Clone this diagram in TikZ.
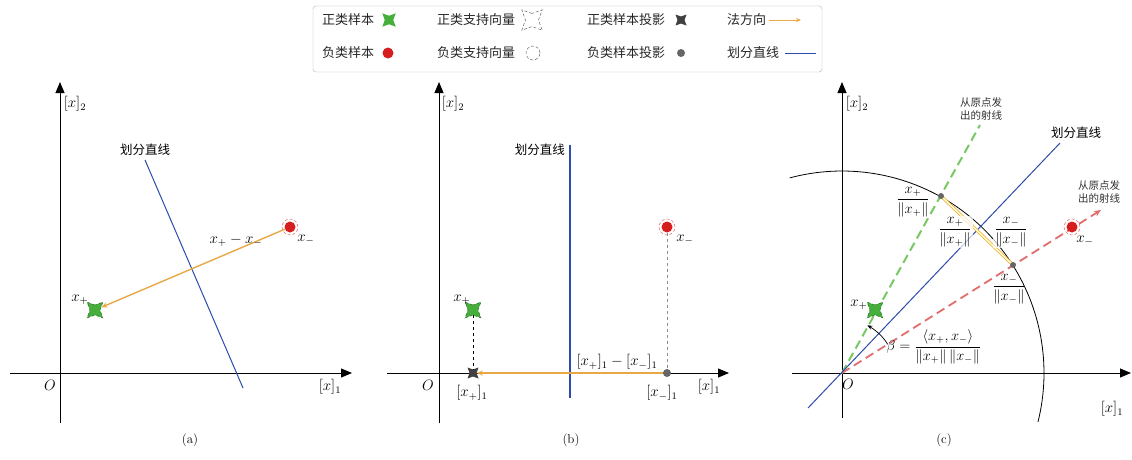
\documentclass[tikz,border=0pt]{standalone}
\usepackage{amsmath}
\usepackage{fontspec}
\newfontfamily\cjk{Noto Sans CJK SC}
\usetikzlibrary{shapes.geometric,arrows.meta}
\definecolor{posgreen}{RGB}{70,175,60}
\definecolor{raygreen}{RGB}{120,200,100}
\definecolor{negred}{RGB}{215,30,30}
\definecolor{rayred}{RGB}{225,110,110}
\definecolor{divblue}{RGB}{45,75,170}
\definecolor{normorange}{RGB}{232,168,70}
\tikzset{
  axis/.style={line width=0.9pt,-{Triangle[length=11pt,width=9pt]}},
  divline/.style={divblue,line width=1pt},
  normarrow/.style={normorange,line width=1.4pt,-{Stealth[length=6pt,width=5pt]}},
  posmark/.style={star,star points=4,star point ratio=0.45,minimum size=10pt,inner sep=0pt,fill=posgreen,draw=posgreen!60!black,densely dashed,line width=0.5pt},
  posplain/.style={star,star points=4,star point ratio=0.45,minimum size=8.5pt,inner sep=0pt,fill=posgreen},
  possv/.style={star,star points=4,star point ratio=0.45,minimum size=13pt,inner sep=0pt,draw=black!60,densely dashed,line width=0.5pt},
  negmark/.style={circle,minimum size=11pt,inner sep=0pt,fill=negred},
  negsv/.style={circle,minimum size=16pt,inner sep=0pt,draw=negred!70,densely dashed,line width=0.5pt},
  negsvleg/.style={circle,minimum size=14pt,inner sep=0pt,draw=black!60,densely dashed,line width=0.5pt},
  posproj/.style={star,star points=4,star point ratio=0.45,minimum size=7pt,inner sep=0pt,fill=black!75},
  negproj/.style={circle,minimum size=8pt,inner sep=0pt,fill=black!60},
  cjklab/.style={font=\cjk\fontsize{12.5}{14}\selectfont,inner sep=1pt},
  raylab/.style={font=\cjk\fontsize{10.5}{13}\selectfont,align=center,inner sep=1pt,text=black!80},
  legtext/.style={font=\cjk\fontsize{13}{15}\selectfont,anchor=west,inner sep=0pt,text=black!85},
  mlab/.style={font=\fontsize{12}{14}\selectfont,inner sep=1pt,transform shape,scale=1.25},
  flab/.style={font=\fontsize{12}{14}\selectfont,inner sep=1pt,transform shape,scale=1.2},
  captext/.style={font=\fontsize{12}{14}\selectfont,transform shape,scale=1.08},
}
\begin{document}
\begin{tikzpicture}[x=1pt,y=-1pt]
\useasboundingbox (0,0) rectangle (1132,459);

% ---------------- legend ----------------
\node[draw=black!30,rounded corners=3pt,minimum width=509pt,minimum height=66pt,inner sep=0pt] (legend) at (567.5,39) {};
\node[legtext] (l1) at (322,20) {正类样本};
\node[posplain] (l1m) at (389,20) {};
\node[legtext] (l2) at (437,20) {正类支持向量};
\node[possv] (l2m) at (532,20) {};
\node[legtext] (l3) at (587,20) {正类样本投影};
\node[posproj] (l3m) at (681,20) {};
\node[legtext] (l4) at (727,20) {法方向};
\coordinate (l4a) at (769,20);
\coordinate (l4b) at (801,20);
\draw[normorange,line width=0.9pt,-{Stealth[length=5pt,width=4pt]}] (l4a) -- (l4b);
\node[legtext] (l5) at (322,53) {负类样本};
\node[negmark] (l5m) at (388,53) {};
\node[legtext] (l6) at (437,53) {负类支持向量};
\node[negsvleg] (l6m) at (533,53) {};
\node[legtext] (l7) at (587,53) {负类样本投影};
\node[negproj] (l7m) at (681,53) {};
\node[legtext] (l8) at (727,53) {划分直线};
\coordinate (l8a) at (785,53);
\coordinate (l8b) at (816,53);
\draw[divline] (l8a) -- (l8b);

% ---------------- panel (a) ----------------
\coordinate (ax1) at (10,373);
\coordinate (ax2) at (352,373);
\coordinate (ay1) at (60,423);
\coordinate (ay2) at (60,82);
\draw[axis] (ax1) -- (ax2);
\draw[axis] (ay1) -- (ay2);
\node[mlab] (aO) at (50,385) {$O$};
\node[mlab] (ay) at (75,104) {$[x]_2$};
\node[mlab] (ax) at (330,387) {$[x]_1$};
\coordinate (ab1) at (145,160);
\coordinate (ab2) at (243,388);
\draw[divline] (ab1) -- (ab2);
\node[cjklab] (alab) at (145,150) {划分直线};
\node[negsv] (anegsv) at (290,227) {};
\node[negmark] (aneg) at (290,227) {};
\node[posmark] (apos) at (95,310) {};
\draw[normarrow] (aneg) -- (apos);
\node[mlab] (adiff) at (236,241) {$x_+ - x_-$};
\node[mlab] (anl) at (306,240) {$x_-$};
\node[mlab] (apl) at (80,300) {$x_+$};
\node[captext] (capa) at (190,440) {(a)};

% ---------------- panel (b) ----------------
\coordinate (bx1) at (387,373);
\coordinate (bx2) at (729,373);
\coordinate (by1) at (439,423);
\coordinate (by2) at (439,82);
\draw[axis] (bx1) -- (bx2);
\draw[axis] (by1) -- (by2);
\node[mlab] (bO) at (428,385) {$O$};
\node[mlab] (by) at (453,104) {$[x]_2$};
\node[mlab] (bx) at (709,387) {$[x]_1$};
\coordinate (bb1) at (570,145);
\coordinate (bb2) at (570,398);
\draw[divblue,line width=1.5pt] (bb1) -- (bb2);
\node[cjklab,anchor=east] (blab) at (566,150) {划分直线};
\node[posmark] (bpos) at (473,310) {};
\node[negsv] (bnegsv) at (667,227) {};
\node[negmark] (bneg) at (667,227) {};
\node[posproj] (bpp) at (473,373) {};
\node[negproj] (bnp) at (667,373) {};
\draw[black,dashed,line width=0.8pt] (bpos) -- (bpp);
\draw[black!45,dashed,line width=0.8pt] (bneg) -- (bnp);
\draw[normarrow,line width=1.8pt] (bnp) -- (bpp);
\node[mlab] (bdiff) at (617,362) {$[x_+]_1-[x_-]_1$};
\node[mlab] (bpl) at (472,393) {$[x_+]_1$};
\node[mlab] (bnl) at (662,393) {$[x_-]_1$};
\node[mlab] (bposl) at (462,300) {$x_+$};
\node[mlab] (bnegl) at (685,240) {$x_-$};
\node[captext] (capb) at (571,440) {(b)};

% ---------------- panel (c) ----------------
\coordinate (cO) at (842,373);
\coordinate (cx1) at (792,373);
\coordinate (cx2) at (1131,373);
\coordinate (cy1) at (842,418);
\coordinate (cy2) at (842,82);
\draw[axis] (cx1) -- (cx2);
\draw[axis] (cy1) -- (cy2);
\draw[black,line width=0.8pt] plot[domain=-14:105,samples=80] ({842+202*cos(\x)},{373-202*sin(\x)});
\node[mlab] (cOl) at (848,384) {$O$};
\node[mlab] (cy) at (857,104) {$[x]_2$};
\node[mlab] (cx) at (1112,409) {$[x]_1$};
% rays
\coordinate (cg) at (980,125);
\coordinate (cr) at (1101,210);
\draw[raygreen,line width=2pt,dash pattern=on 9pt off 5pt] (cO) -- (cg);
\draw[rayred,line width=1.8pt,dash pattern=on 9pt off 5pt,-{Stealth[length=7pt,width=6pt]}] (cO) -- (cr);
% dividing line
\coordinate (cb1) at (808,408);
\coordinate (cb2) at (1060,143);
\draw[divline] (cb1) -- (cb2);
\node[cjklab] (clab) at (1076,133) {划分直线};
\node[raylab] (cray1) at (981,109) {从原点发\\出的射线};
\node[raylab] (cray2) at (1099,192) {从原点发\\出的射线};
% samples
\node[posmark] (cpos) at (875,310) {};
\node[negsv] (cnegsv) at (1072,227) {};
\node[negmark] (cneg) at (1072,227) {};
\node[mlab] (cposl) at (859,305) {$x_+$};
\node[mlab] (cnegl) at (1085,241) {$x_-$};
% normalized points
\coordinate (cpu) at (941,196);
\coordinate (cnu) at (1013,265);
\draw[normorange,double=yellow!25,double distance=1.6pt,line width=0.7pt] (cpu) -- (cnu);
\node[negproj,minimum size=6pt] (cpud) at (cpu) {};
\node[negproj,minimum size=6pt] (cnud) at (cnu) {};
\node[flab] (cfp) at (913,202) {$\dfrac{x_+}{\|x_+\|}$};
\node[flab,fill=white,fill opacity=0.7,text opacity=1] (cfp2) at (955,232) {$\dfrac{x_+}{\|x_+\|}$};
\node[flab,fill=white,fill opacity=0.7,text opacity=1] (cfn2) at (1011,232) {$\dfrac{x_-}{\|x_-\|}$};
\node[flab] (cfn) at (1009,289) {$\dfrac{x_-}{\|x_-\|}$};
% angle
\draw[black,line width=0.7pt,-{Stealth[length=5pt,width=4pt]}] plot[domain=32:62,samples=20] ({842+54*cos(\x)},{373-54*sin(\x)});
\node[flab] (cbeta) at (934,347) {$\beta=\dfrac{\langle x_+,x_-\rangle}{\|x_+\|\,\|x_-\|}$};
\node[captext] (capc) at (944,440) {(c)};
\end{tikzpicture}
\end{document}
